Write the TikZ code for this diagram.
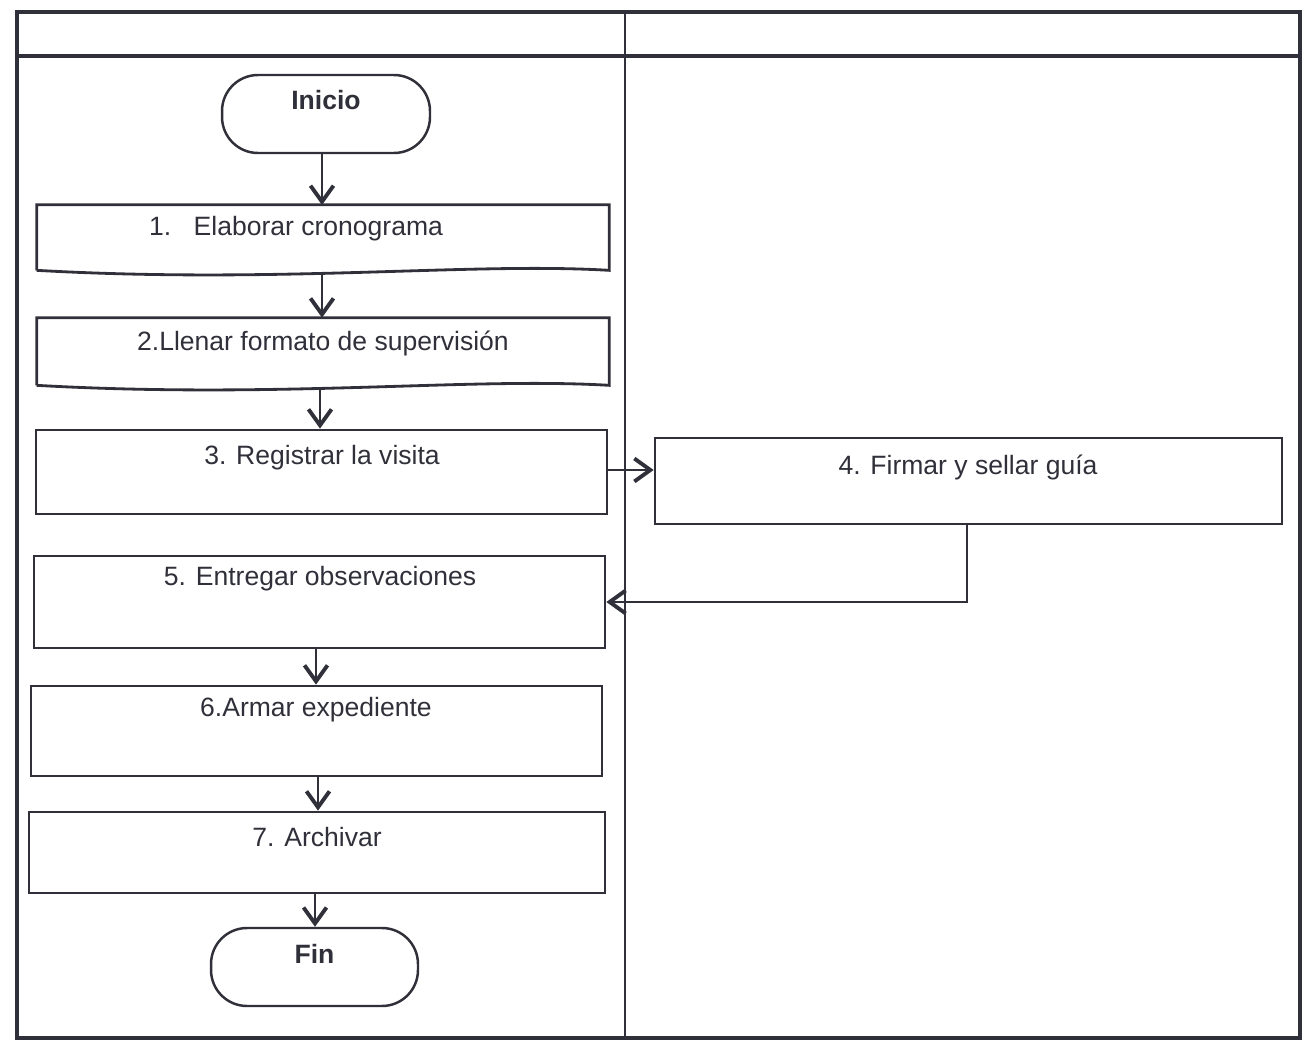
\documentclass[tikz,border=0pt]{standalone}
\usepackage{fontspec}
\setmainfont{Liberation Sans}
\usetikzlibrary{arrows.meta}
\definecolor{ink}{RGB}{48,48,58}
\begin{document}
\begin{tikzpicture}[x=0.02cm,y=-0.02cm,
  frame/.style={draw=ink,line width=1.8pt},
  lane/.style={draw=ink,line width=1.1pt},
  task/.style={draw=ink,line width=1.6pt,rectangle,inner sep=0pt},
  doc/.style={rectangle,inner sep=0pt},
  term/.style={draw=ink,line width=1.4pt,rectangle,rounded corners=0.72cm,inner sep=0pt},
  lbl/.style={text=ink,font=\fontsize{15.1pt}{18pt}\selectfont,inner sep=0pt},
  flow/.style={draw=ink,line width=1.6pt,-{Straight Barb[length=0.32cm,width=0.46cm,line width=2.2pt]}}
]
\useasboundingbox (0,0) rectangle (1308,1051);
\fill[white] (0,0) rectangle (1308,1051);

% swimlane frame
\draw[frame] (17,12) rectangle (1300,1038);
\draw[frame] (17,56) -- (1300,56);
\draw[lane] (625,12) -- (625,1038);

% terminals
\node[term,minimum width=4.16cm,minimum height=1.56cm] (ini) at (326,114) {};
\node[lbl,font=\fontsize{15.1pt}{18pt}\selectfont\bfseries] (tini) at (326,100) {Inicio};
\node[term,minimum width=4.14cm,minimum height=1.56cm] (fin) at (314.5,967) {};
\node[lbl,font=\fontsize{15.1pt}{18pt}\selectfont\bfseries] (tfin) at (314.5,954) {Fin};

% document-shaped steps
\node[doc,minimum width=11.44cm,minimum height=1.3cm] (b1) at (323,237.5) {};
\draw[ink,line width=1.6pt] (b1.south west) -- (b1.north west) -- (b1.north east) -- (b1.south east)
  .. controls (470,262) and (280,284) .. (b1.south west);
\node[lbl] (t1) at (296,229) {1.\hspace{0.85em}Elaborar cronograma};

\node[doc,minimum width=11.44cm,minimum height=1.34cm] (b2) at (323,351.5) {};
\draw[ink,line width=1.6pt] (b2.south west) -- (b2.north west) -- (b2.north east) -- (b2.south east)
  .. controls (470,377) and (280,399) .. (b2.south west);
\node[lbl] (t2) at (323,343) {2.Llenar formato de supervisión};

% process steps
\node[task,minimum width=11.42cm,minimum height=1.68cm] (b3) at (321.5,472) {};
\node[lbl] (t3) at (322,458) {3. Registrar la visita};
\node[task,minimum width=12.54cm,minimum height=1.72cm] (b4) at (968.5,481) {};
\node[lbl] (t4) at (968,467) {4. Firmar y sellar guía};
\node[task,minimum width=11.42cm,minimum height=1.84cm] (b5) at (319.5,602) {};
\node[lbl] (t5) at (320,579) {5. Entregar observaciones};
\node[task,minimum width=11.42cm,minimum height=1.8cm] (b6) at (316.5,731) {};
\node[lbl] (t6) at (316,710) {6.Armar expediente};
\node[task,minimum width=11.52cm,minimum height=1.62cm] (b7) at (317,852.5) {};
\node[lbl] (t7) at (317,837) {7. Archivar};

% connectors
\draw[flow] (ini.south -| 322,0) -- (322,205);
\draw[flow] (322,274) -- (b2.north -| 322,0);
\draw[flow] (320,388) -- (b3.north -| 320,0);
\draw[flow] (b3.east |- 0,470) -- (b4.west |- 0,470);
\draw[flow] (b4.south -| 967,0) |- (b5.east);
\draw[flow] (b5.south -| 316,0) -- (b6.north -| 316,0);
\draw[flow] (b6.south -| 318,0) -- (b7.north -| 318,0);
\draw[flow] (b7.south -| 315,0) -- (fin.north -| 315,0);
\end{tikzpicture}
\end{document}
